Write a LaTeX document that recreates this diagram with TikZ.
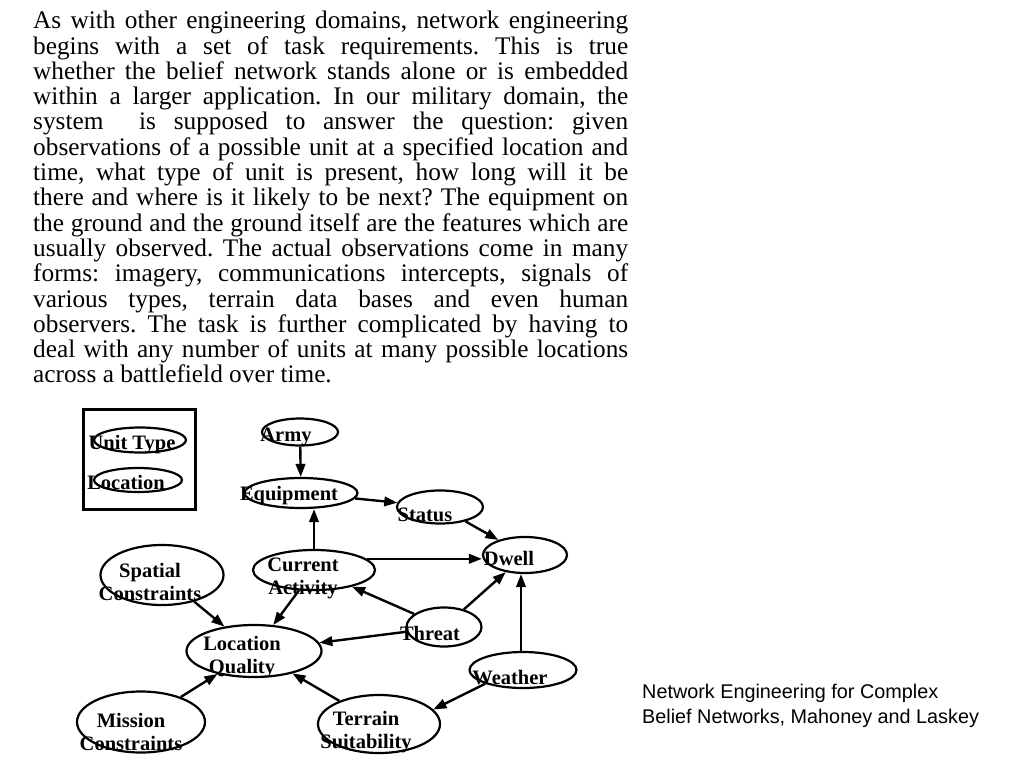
\documentclass[tikz,border=0pt]{standalone}
\usepackage{fontspec}
\setmainfont{Liberation Serif}
\newfontfamily\capfont{Liberation Sans}
\usetikzlibrary{shapes.geometric,arrows.meta}
\frenchspacing
\begin{document}
\begin{tikzpicture}[x=1pt,y=-1pt,
  el/.style={draw, ellipse, line width=2.2pt, inner sep=0pt},
  lbl/.style={font=\fontsize{20.5}{23}\selectfont\bfseries, inner sep=0pt, align=center},
  arr/.style={line width=2.4pt, -{Triangle[length=13pt,width=9.5pt]}}]
\useasboundingbox (0,0) rectangle (1024,768);

% paragraph
\node[anchor=north west, inner sep=0pt, text width=595pt, align=justify,
  font=\fontsize{25.3}{25.3}\selectfont] (para) at (33,11) {\tolerance=9999\hbadness=10000\hyphenpenalty=10000\frenchspacing
As with other engineering domains, network engineering\linebreak
begins with a set of task requirements. This is true\linebreak
whether the belief network stands alone or is embedded\linebreak
within a larger application. In our military domain, the\linebreak
system\ \ is supposed to answer the question: given\linebreak
observations of a possible unit at a specified location and\linebreak
time, what type of unit is present, how long will it be\linebreak
there and where is it likely to be next? The equipment on\linebreak
the ground and the ground itself are the features which are\linebreak
usually observed. The actual observations come in many\linebreak
forms: imagery, communications intercepts, signals of\linebreak
various types, terrain data bases and even human\linebreak
observers. The task is further complicated by having to\linebreak
deal with any number of units at many possible locations\linebreak
across a battlefield over time.};

% caption
\node[anchor=north west, inner sep=0pt, align=left,
  font=\capfont\fontsize{19.8}{25}\selectfont] (cap) at (642,684)
  {Network Engineering for Complex\\Belief Networks, Mahoney and Laskey};

% legend box
\draw[line width=3pt] (83,409) rectangle (195,509);
\node[el, minimum width=92pt, minimum height=25pt] (ut) at (140,440) {};
\node[el, minimum width=88pt, minimum height=24pt] (loc) at (138,480) {};

% ellipses
\node[el, minimum width=76pt, minimum height=27pt] (army) at (300,432) {};
\node[el, minimum width=113pt, minimum height=30pt] (equip) at (301,493) {};
\node[el, minimum width=86pt, minimum height=33pt] (status) at (440,507) {};
\node[el, minimum width=84pt, minimum height=36pt] (dwell) at (525,555) {};
\node[el, minimum width=122pt, minimum height=40pt] (ca) at (314,570) {};
\node[el, minimum width=123pt, minimum height=60pt] (spatial) at (162,575) {};
\node[el, minimum width=135pt, minimum height=52pt] (lq) at (254,651) {};
\node[el, minimum width=128pt, minimum height=61pt] (mission) at (141,722) {};
\node[el, minimum width=122pt, minimum height=58pt] (terrain) at (379,724) {};
\node[el, minimum width=107pt, minimum height=36pt] (weather) at (523,670) {};
\node[el, minimum width=75pt, minimum height=39pt] (threat) at (444,627) {};

% labels
\node[lbl] (tut) at (132,445) {Unit Type};
\node[lbl] (tloc) at (126,482) {Location};
\node[lbl] (tarmy) at (286,437) {Army};
\node[lbl] (tequip) at (289,496) {Equipment};
\node[lbl] (tstatus) at (425,515) {Status};
\node[lbl] (tdwell) at (509,558) {Dwell};
\node[lbl] (tca) at (303,578) {Current\\Activity};
\node[lbl] (tspatial) at (150,582) {Spatial\\Constraints};
\node[lbl] (tlq) at (242,657) {Location\\Quality};
\node[lbl] (tmission) at (131,732) {Mission\\Constraints};
\node[lbl] (tterrain) at (366,732) {Terrain\\Suitability};
\node[lbl] (tweather) at (510,678) {Weather};
\node[lbl] (tthreat) at (430,633) {Threat};

% edges
\draw[arr] (army) -- (equip);
\draw[arr] (equip) -- (status);
\draw[arr] (ca.north) -- (ca.north |- equip.south);
\draw[arr] (status) -- (dwell);
\draw[arr] (ca.12) -- (ca.12 -| dwell.west);
\draw[arr] (threat) -- (ca);
\draw[arr] (threat) -- (dwell);
\draw[arr] (weather.96) -- (weather.96 |- dwell.south);
\draw[arr] (ca) -- (lq);
\draw[arr] (spatial) -- (lq);
\draw[arr] (threat) -- (lq);
\draw[arr] (mission) -- (lq);
\draw[arr] (terrain) -- (lq);
\draw[arr] (weather.200) -- (terrain.15);
\end{tikzpicture}
\end{document}
